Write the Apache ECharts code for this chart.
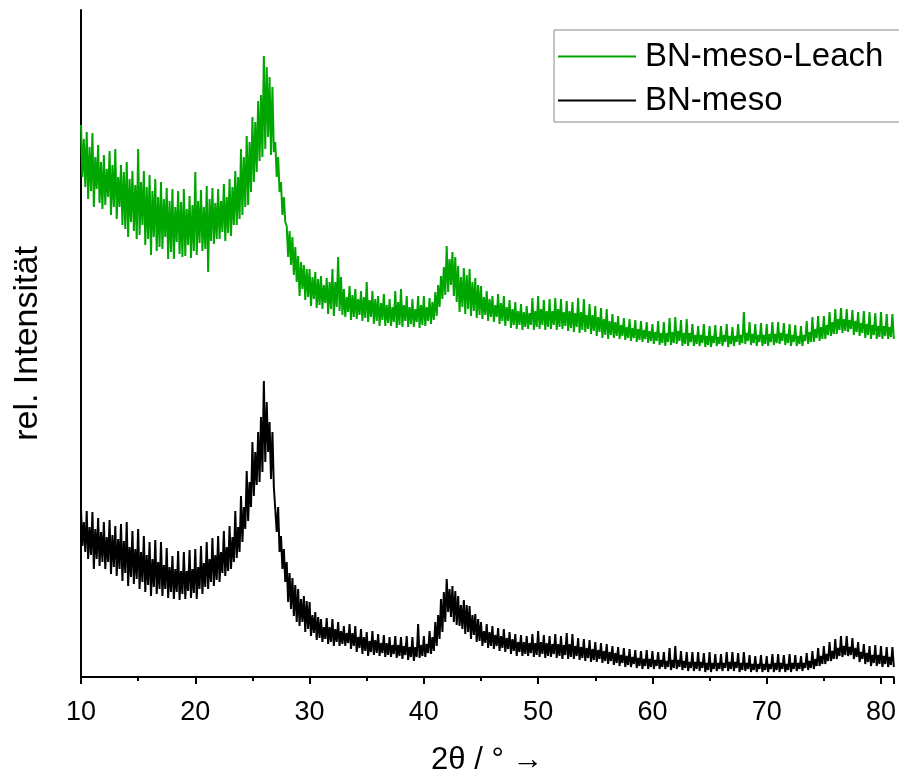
<!DOCTYPE html>
<html>
<head>
<meta charset="utf-8">
<script src="https://cdn.jsdelivr.net/npm/echarts@6/dist/echarts.min.js"></script>
<style>html,body{margin:0;padding:0;background:#fff;}#c{width:899px;height:781px;}</style>
</head>
<body>
<div id="c"></div>
<script>
// 2θ grid: first angle and step (degrees) of the sampled points
const angleStart = 10;
const angleStep = 0.125;
const seriesNames = ['BN-meso-Leach', 'BN-meso'];
const xTickLabels = [10, 20, 30, 40, 50, 60, 70, 80];

// rel. intensity (arbitrary units), 8 points per degree (one row per degree)
const leachValues = [
552,500,538,490,545,478,530,486,
544,470,520,488,532,474,515,468,
522,472,508,480,526,462,512,470,
528,458,500,470,512,452,505,448,
515,440,498,455,506,446,492,438,
528,442,495,452,506,432,490,438,
502,422,486,440,498,426,480,430,
495,428,478,440,489,418,476,425,
488,418,470,435,486,423,475,420,
488,421,468,432,481,419,472,426,
505,422,476,434,487,426,470,428,
491,405,478,436,489,433,474,438,
488,438,476,445,493,436,480,444,
498,441,490,452,506,452,500,458,
528,462,520,470,541,472,535,485,
560,495,555,505,576,516,582,520,
621,528,610,540,600,522,590,525,
535,500,520,485,495,462,480,455,
451,420,446,412,440,402,430,395,
421,381,415,388,412,377,408,380,
408,371,400,378,405,369,398,372,
401,368,392,374,399,363,395,368,
408,361,395,370,420,366,400,362,
388,360,380,365,391,357,382,360,
388,358,378,362,386,356,380,359,
395,355,377,360,386,353,378,356,
381,351,374,357,383,351,372,354,
378,351,370,355,386,349,375,352,
388,350,372,356,381,350,370,353,
378,350,368,355,381,349,372,352,
381,351,370,356,379,353,375,357,
385,361,392,370,401,378,410,382,
431,385,418,392,425,381,420,375,
411,365,400,370,409,363,402,368,
408,361,395,366,399,359,392,362,
391,358,380,362,386,356,378,360,
381,355,372,360,383,353,374,356,
381,351,370,356,377,349,368,352,
375,348,366,352,373,347,365,350,
371,348,364,352,379,347,366,350,
381,348,368,352,377,347,366,350,
378,348,366,352,379,347,368,350,
378,348,365,351,376,346,366,349,
375,345,364,350,379,344,365,347,
378,345,362,348,373,343,362,346,
371,341,360,345,369,339,358,342,
368,338,356,342,363,339,355,341,
361,338,352,341,359,337,350,339,
358,336,349,339,357,335,348,337,
356,335,347,338,355,334,346,336,
353,333,345,336,356,332,344,334,
355,331,344,335,359,332,345,334,
360,333,346,336,357,331,344,333,
358,331,344,335,353,331,342,333,
351,331,342,334,353,330,341,332,
351,330,341,334,352,331,340,333,
351,331,342,335,353,330,341,333,
350,331,341,335,353,332,342,334,
365,333,344,336,355,332,343,334,
353,331,342,335,354,331,342,333,
353,331,343,335,355,332,343,334,
355,333,344,336,354,332,343,334,
353,331,342,335,352,331,341,333,
351,331,342,336,356,333,345,335,
360,335,348,339,361,336,350,338,
361,338,352,342,365,341,355,343,
368,343,358,347,369,344,358,346,
368,345,357,348,367,342,356,345,
365,341,354,344,366,339,353,342,
365,338,352,342,364,338,351,340,
365,338,351,341,363,338,350,340,
363,338
];

const mesoValues = [
168,131,155,125,166,118,150,122,
165,108,148,118,159,111,145,115,
155,108,140,115,157,103,142,110,
151,101,138,108,153,96,136,104,
155,91,130,100,146,93,128,98,
148,88,125,95,141,85,122,92,
135,81,118,90,137,83,115,88,
135,81,112,88,129,79,110,85,
121,78,108,85,126,77,106,83,
125,78,106,86,127,79,108,84,
128,78,110,88,131,83,114,90,
135,88,118,95,139,91,122,97,
141,95,125,104,146,101,130,106,
151,108,140,115,166,119,150,125,
181,135,170,148,206,156,195,170,
235,181,225,192,245,195,260,205,
296,215,275,225,255,198,245,190,
191,145,170,125,141,108,128,95,
115,75,104,68,99,61,92,55,
88,51,78,55,81,45,76,48,
75,41,62,44,65,37,60,39,
58,35,50,38,59,33,50,35,
58,31,48,35,55,31,46,33,
51,31,44,34,53,28,44,31,
51,25,40,29,48,23,40,26,
45,21,36,25,46,22,37,24,
43,21,34,24,42,20,34,22,
40,20,32,23,41,19,32,21,
40,18,31,22,41,17,30,20,
40,16,30,20,53,19,32,21,
41,20,33,24,46,23,40,26,
55,31,62,38,78,45,85,55,
98,65,88,60,91,55,86,52,
81,51,72,48,77,43,72,45,
71,38,62,42,63,35,58,36,
55,31,46,34,53,29,45,31,
51,28,42,31,49,26,41,29,
48,25,39,28,45,23,38,26,
43,21,35,25,42,21,35,23,
41,21,34,24,43,20,34,22,
46,20,35,23,42,19,34,21,
41,20,33,23,43,19,33,21,
41,18,32,22,44,18,33,20,
43,18,31,21,39,17,30,19,
38,16,29,19,37,15,28,17,
35,15,27,18,34,14,26,16,
33,13,25,16,31,12,24,14,
30,11,22,14,29,10,21,12,
28,10,20,13,27,9,19,11,
26,8,18,11,27,8,18,10,
26,8,17,11,25,8,17,10,
25,8,16,10,29,7,17,9,
31,8,17,10,26,7,16,9,
25,6,15,9,25,6,15,8,
25,6,15,9,24,5,14,7,
25,5,14,8,23,6,14,8,
23,6,14,9,25,6,15,8,
25,6,15,9,24,5,14,7,
25,6,14,8,22,5,13,7,
21,5,13,8,22,5,13,7,
21,5,13,8,23,5,14,7,
23,5,14,8,22,5,13,7,
23,5,14,8,22,6,14,8,
21,6,14,9,24,7,16,9,
26,8,18,11,29,11,21,13,
31,13,23,16,35,16,26,18,
38,18,29,21,41,20,31,22,
41,21,30,22,39,18,29,20,
35,15,25,18,33,13,24,15,
31,11,22,14,32,11,22,13,
31,10,21,13,30,10,20,12,
30,10
];

function pairs(vals) {
  return vals.map((v, i) => [angleStart + i * angleStep, v]);
}

const chart = echarts.init(document.getElementById('c'), null, {renderer: 'canvas'});
const font = 'Arial, "Liberation Sans", sans-serif';
chart.setOption({
  animation: false,
  backgroundColor: '#ffffff',
  grid: {left: 81, right: 0, top: 10, bottom: 104, containLabel: false},
  legend: {
    orient: 'vertical',
    left: 554, top: 30,
    padding: [10, 60, 5, 4],
    itemGap: 11,
    itemWidth: 78, itemHeight: 26,
    borderColor: '#888', borderWidth: 1,
    backgroundColor: '#fff',
    icon: 'path://M0,0 L78,0 L78,2 L0,2 Z',
    textStyle: {fontFamily: font, fontSize: 33, color: '#000', padding: [0,0,0,4]},
    data: seriesNames.map(n => ({name: n}))
  },
  xAxis: {
    type: 'value', min: 10, max: 81.1, interval: 10,
    name: '2θ / ° →', nameLocation: 'middle', nameGap: 68,
    nameTextStyle: {fontFamily: font, fontSize: 31, color: '#000'},
    axisLine: {show: true, onZero: false, lineStyle: {color: '#000', width: 2}},
    axisTick: {show: true, length: 7, lineStyle: {color: '#000', width: 2}},
    minorTick: {show: true, splitNumber: 2, length: 4, lineStyle: {color: '#000', width: 2}},
    axisLabel: {
      fontFamily: font, fontSize: 27, color: '#000', margin: 22,
      formatter: v => xTickLabels.indexOf(Math.round(v * 1000) / 1000) >= 0 ? String(v) : ''
    },
    splitLine: {show: false}
  },
  yAxis: {
    type: 'value', min: 0, max: 667,
    name: 'rel. Intensität', nameLocation: 'middle', nameGap: 36, nameRotate: 90,
    nameTextStyle: {fontFamily: font, fontSize: 34, color: '#000'},
    axisLine: {show: true, lineStyle: {color: '#000', width: 2}},
    axisTick: {show: false},
    axisLabel: {show: false},
    splitLine: {show: false}
  },
  series: [
    {name: seriesNames[0], type: 'line', showSymbol: false, symbol: 'none',
     data: pairs(leachValues), lineStyle: {color: '#00a600', width: 2}, itemStyle: {color: '#00a600'}},
    {name: seriesNames[1], type: 'line', showSymbol: false, symbol: 'none',
     data: pairs(mesoValues), lineStyle: {color: '#000000', width: 2}, itemStyle: {color: '#000000'}}
  ]
});
</script>
</body>
</html>
